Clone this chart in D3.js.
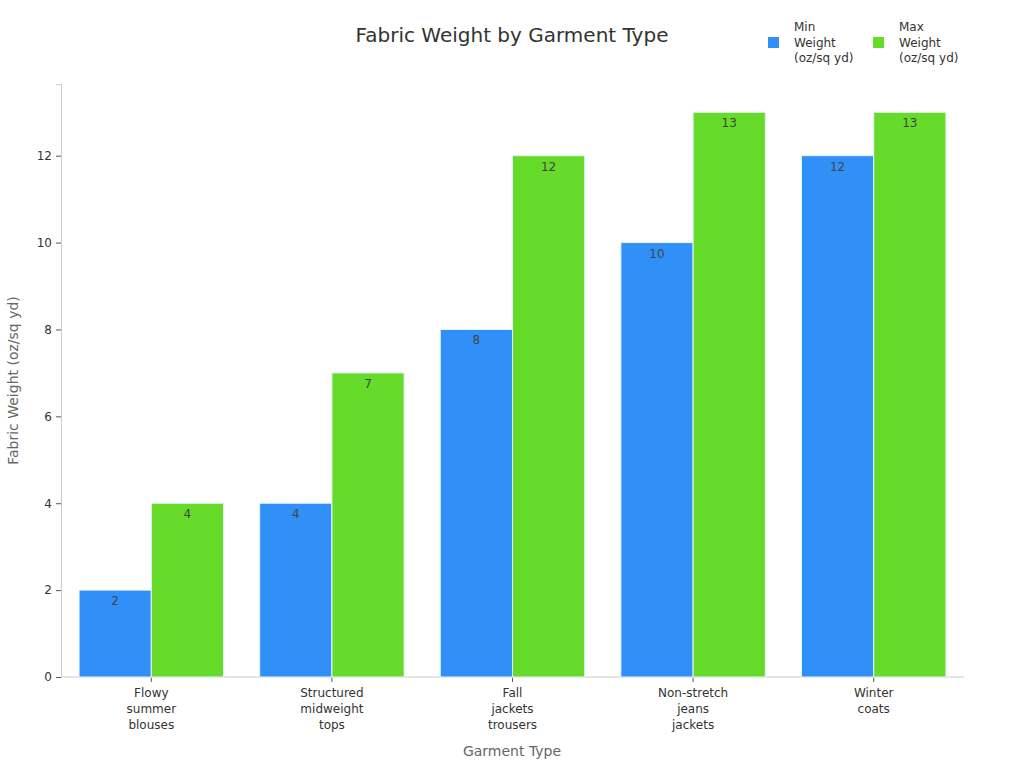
<!DOCTYPE html>
<html lang="en">
<head>
<meta charset="UTF-8">
<title>Fabric Weight by Garment Type</title>
<style>
body { margin: 0; background: #fff; }
svg { font-family: "DejaVu Sans", sans-serif; }
</style>
</head>
<body>
<svg id="chart" width="1024" height="768"></svg>
<script src="https://cdn.jsdelivr.net/npm/d3@7/dist/d3.min.js"></script>
<script>

const categories = [
	["Flowy", "summer", "blouses"],
	["Structured", "midweight", "tops"],
	["Fall", "jackets", "trousers"],
	["Non-stretch", "jeans", "jackets"],
	["Winter", "coats"]
];
const minWeight = [2, 4, 8, 10, 12];
const maxWeight = [4, 7, 12, 13, 13];
const seriesNames = [["Min", "Weight", "(oz/sq yd)"], ["Max", "Weight", "(oz/sq yd)"]];
const seriesColors = ["#3090f7", "#66db29"];
const yTicks = [0, 2, 4, 6, 8, 10, 12];

const svg = d3.select("#chart");
const margin = {left: 61, right: 60, top: 84, bottom: 91};
const W = 1024, H = 768;

const keys = categories.map((c, i) => i);
const x = d3.scaleBand().domain(keys).range([margin.left, W - margin.right]).paddingInner(0.2).paddingOuter(0.1);
const x1 = d3.scaleBand().domain([0, 1]).range([0, x.bandwidth()]);
const y = d3.scaleLinear().domain([0, 13.65]).range([H - margin.bottom, margin.top]);

// title
svg.append("text")
	.attr("x", 512).attr("y", 42)
	.attr("text-anchor", "middle")
	.attr("font-size", 20)
	.attr("fill", "#333")
	.text("Fabric Weight by Garment Type");

// y axis
const yAxis = svg.append("g")
	.attr("transform", `translate(${margin.left},0)`)
	.call(d3.axisLeft(y).tickValues(yTicks).tickSize(5).tickPadding(4));
yAxis.select(".domain").attr("stroke", "#ccc");
yAxis.selectAll(".tick line").attr("stroke", "#555");
yAxis.selectAll(".tick text").attr("font-size", 12).attr("fill", "#333").attr("font-family", "DejaVu Sans");

// x axis
const xAxis = svg.append("g")
	.attr("transform", `translate(0,${H - margin.bottom})`)
	.call(d3.axisBottom(x).tickSize(5).tickFormat(""));
xAxis.select(".domain").attr("stroke", "#ccc").attr("d", `M${margin.left},0H${W - margin.right}`);
xAxis.selectAll(".tick line").attr("stroke", "#555");
xAxis.selectAll(".tick").each(function(d) {
	const t = d3.select(this).append("text")
		.attr("text-anchor", "middle")
		.attr("font-size", 12)
		.attr("fill", "#333")
		.attr("font-family", "DejaVu Sans");
	categories[d].forEach((line, j) => {
		t.append("tspan").attr("x", 0).attr("y", 20 + j * 16).text(line);
	});
});

// bars
const series = [minWeight, maxWeight];
series.forEach((vals, s) => {
	const g = svg.append("g");
	g.selectAll("rect").data(vals).join("rect")
		.attr("x", (d, i) => x(i) + x1(s))
		.attr("y", d => y(d))
		.attr("width", x1.bandwidth())
		.attr("height", d => y(0) - y(d))
		.attr("fill", seriesColors[s])
		.attr("stroke", "#e8f4ff")
		.attr("stroke-width", 1);
	g.selectAll("text").data(vals).join("text")
		.attr("x", (d, i) => x(i) + x1(s) + x1.bandwidth() / 2)
		.attr("y", d => y(d) + 15)
		.attr("text-anchor", "middle")
		.attr("font-size", 12)
		.attr("fill", "#444")
		.text(d => d);
});

// axis titles
svg.append("text")
	.attr("x", 512).attr("y", 756)
	.attr("text-anchor", "middle")
	.attr("font-size", 14)
	.attr("fill", "#666")
	.text("Garment Type");
svg.append("text")
	.attr("transform", `translate(18,${(margin.top + H - margin.bottom) / 2}) rotate(-90)`)
	.attr("text-anchor", "middle")
	.attr("font-size", 14)
	.attr("fill", "#666")
	.text("Fabric Weight (oz/sq yd)");

// legend
const legend = svg.append("g");
seriesNames.forEach((lines, s) => {
	const lx = 768 + s * 105;
	legend.append("rect")
		.attr("x", lx).attr("y", 37)
		.attr("width", 11).attr("height", 11)
		.attr("fill", seriesColors[s]);
	const t = legend.append("text")
		.attr("font-size", 12)
		.attr("fill", "#333");
	lines.forEach((line, j) => {
		t.append("tspan").attr("x", lx + 26).attr("y", 31 + j * 15.5).text(line);
	});
});

</script>
</body>
</html>
